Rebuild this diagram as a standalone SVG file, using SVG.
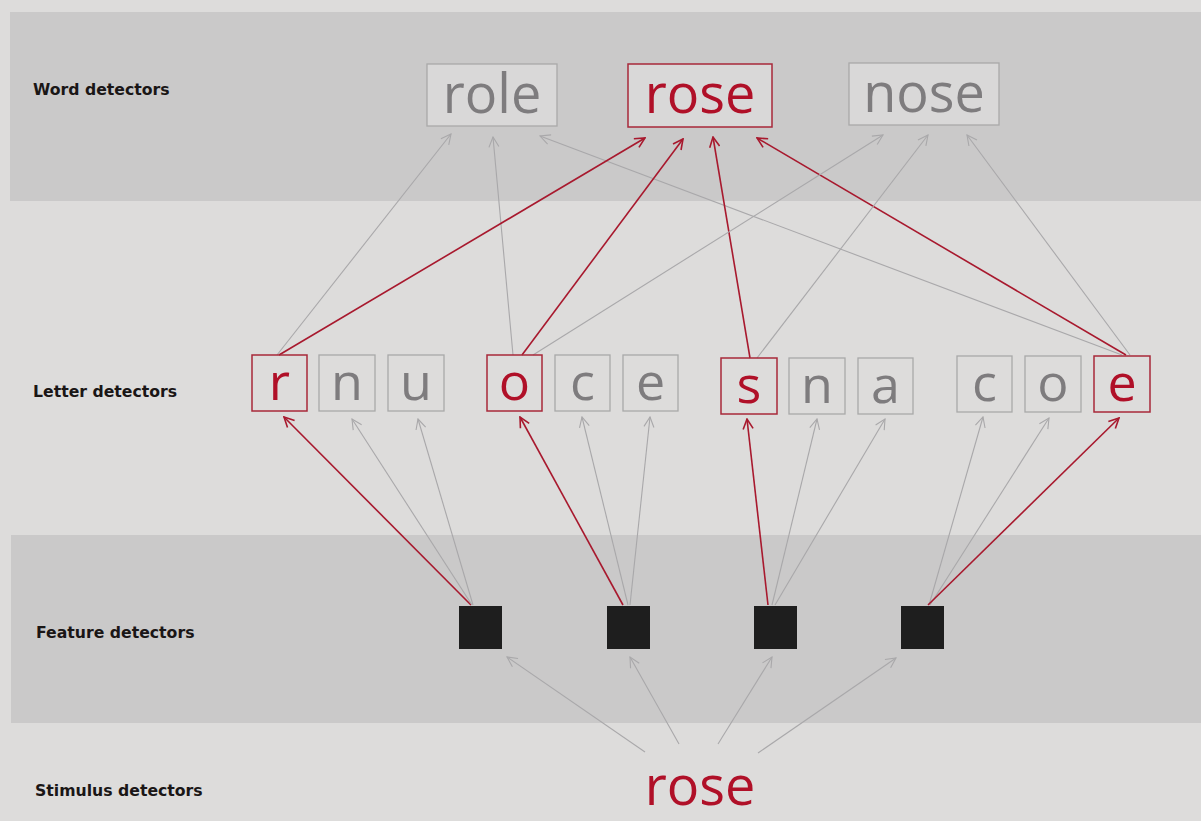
<svg xmlns="http://www.w3.org/2000/svg" width="1201" height="821" viewBox="0 0 1201 821">
<defs>
<style>
.band{fill:#cac9c9}
.lbl{font-family:"DejaVu Sans",Verdana,sans-serif;font-weight:bold;font-size:15.7px;fill:#1a1616}
.wt{font-family:"Open Sans","Noto Sans",sans-serif;font-size:54px;text-anchor:middle}
.lt{font-family:"Open Sans","Noto Sans",sans-serif;font-size:52px;text-anchor:middle}
.on{fill:#b01028}
.off{fill:#7e7c7e}
.boxon{fill:none;stroke:#a8283a;stroke-width:1.5}
.boxoff{fill:none;stroke:#a9a9a9;stroke-width:1.3}
.wbox{fill:#d9d8d8}
.r{stroke:#a8192e;stroke-width:1.6;fill:none;marker-end:url(#ar)}
.g{stroke:#a9a8aa;stroke-width:1.1;fill:none;marker-end:url(#ag)}
.feat{fill:#1e1e1e}
</style>
<marker id="ar" viewBox="0 0 12 12" markerWidth="12" markerHeight="12" refX="11" refY="6" orient="auto" markerUnits="userSpaceOnUse">
<path d="M1,1 L11,6 L1,11" fill="none" stroke="#a8192e" stroke-width="1.6"/>
</marker>
<marker id="ag" viewBox="0 0 12 12" markerWidth="12" markerHeight="12" refX="11" refY="6" orient="auto" markerUnits="userSpaceOnUse">
<path d="M1,1 L11,6 L1,11" fill="none" stroke="#a9a8aa" stroke-width="1.1"/>
</marker>
</defs>
<rect x="0" y="0" width="1201" height="821" fill="#dddcdb"/>
<rect class="band" x="10" y="12" width="1191" height="189"/>
<rect class="band" x="11" y="535" width="1190" height="188"/>
<g id="labels">
<text class="lbl" x="33" y="95">Word detectors</text>
<text class="lbl" x="33" y="397">Letter detectors</text>
<text class="lbl" x="36" y="638">Feature detectors</text>
<text class="lbl" x="35" y="796">Stimulus detectors</text>
</g>
<g id="connectors">
<line class="g" x1="277" y1="355" x2="451" y2="134"/>
<line class="g" x1="513" y1="355" x2="493" y2="137"/>
<line class="g" x1="1122" y1="355" x2="540" y2="136"/>
<line class="r" x1="279" y1="355" x2="645" y2="138"/>
<line class="r" x1="522" y1="355" x2="683" y2="139"/>
<line class="r" x1="750" y1="358" x2="713" y2="137"/>
<line class="r" x1="1126" y1="355" x2="757" y2="138"/>
<line class="g" x1="533" y1="355" x2="883" y2="135"/>
<line class="g" x1="757" y1="358" x2="928" y2="135"/>
<line class="g" x1="1130" y1="355" x2="967" y2="135"/>
<line class="r" x1="471" y1="605" x2="284" y2="417"/>
<line class="g" x1="472" y1="605" x2="352" y2="419"/>
<line class="g" x1="473" y1="605" x2="418" y2="419"/>
<line class="r" x1="623" y1="605" x2="520" y2="417"/>
<line class="g" x1="628" y1="605" x2="582" y2="417"/>
<line class="g" x1="630" y1="605" x2="650" y2="417"/>
<line class="r" x1="768" y1="605" x2="747" y2="419"/>
<line class="g" x1="772" y1="605" x2="817" y2="419"/>
<line class="g" x1="775" y1="605" x2="885" y2="419"/>
<line class="g" x1="929" y1="605" x2="983" y2="417"/>
<line class="g" x1="930" y1="605" x2="1049" y2="418"/>
<line class="r" x1="928" y1="605" x2="1119" y2="418"/>
<line class="g" x1="645" y1="752" x2="507" y2="657"/>
<line class="g" x1="679" y1="744" x2="630" y2="657"/>
<line class="g" x1="718" y1="744" x2="772" y2="657"/>
<line class="g" x1="758" y1="753" x2="896" y2="658"/>
</g>
<g id="word-role"><rect class="wbox" x="427" y="64" width="130" height="62"/><rect class="boxoff" x="427" y="64" width="130" height="62"/><text class="wt off" x="492" y="113">role</text></g>
<g id="word-rose"><rect class="wbox" x="628" y="64" width="144" height="63"/><rect class="boxon" x="628" y="64" width="144" height="63"/><text class="wt on" x="700" y="113">rose</text></g>
<g id="word-nose"><rect class="wbox" x="849" y="63" width="150" height="62"/><rect class="boxoff" x="849" y="63" width="150" height="62"/><text class="wt off" x="924" y="112">nose</text></g>
<g id="letter-r"><rect class="boxon" x="252" y="355" width="55" height="56"/><text class="lt on" x="279.5" y="400">r</text></g>
<g id="letter-n1"><rect class="boxoff" x="319" y="355" width="56" height="56"/><text class="lt off" x="347" y="400">n</text></g>
<g id="letter-u"><rect class="boxoff" x="388" y="355" width="56" height="56"/><text class="lt off" x="416" y="400">u</text></g>
<g id="letter-o1"><rect class="boxon" x="487" y="355" width="55" height="56"/><text class="lt on" x="514.5" y="400">o</text></g>
<g id="letter-c1"><rect class="boxoff" x="555" y="355" width="55" height="56"/><text class="lt off" x="582.5" y="400">c</text></g>
<g id="letter-e1"><rect class="boxoff" x="623" y="355" width="55" height="56"/><text class="lt off" x="650.5" y="400">e</text></g>
<g id="letter-s"><rect class="boxon" x="721" y="358" width="56" height="56"/><text class="lt on" x="749" y="403">s</text></g>
<g id="letter-n2"><rect class="boxoff" x="789" y="358" width="56" height="56"/><text class="lt off" x="817" y="403">n</text></g>
<g id="letter-a"><rect class="boxoff" x="858" y="358" width="55" height="56"/><text class="lt off" x="885.5" y="403">a</text></g>
<g id="letter-c2"><rect class="boxoff" x="957" y="356" width="55" height="56"/><text class="lt off" x="984.5" y="401">c</text></g>
<g id="letter-o2"><rect class="boxoff" x="1025" y="356" width="56" height="56"/><text class="lt off" x="1053" y="401">o</text></g>
<g id="letter-e2"><rect class="boxon" x="1094" y="356" width="56" height="56"/><text class="lt on" x="1122" y="401">e</text></g>
<g id="feature-1"><rect class="feat" x="459" y="606" width="43" height="43"/></g>
<g id="feature-2"><rect class="feat" x="607" y="606" width="43" height="43"/></g>
<g id="feature-3"><rect class="feat" x="754" y="606" width="43" height="43"/></g>
<g id="feature-4"><rect class="feat" x="901" y="606" width="43" height="43"/></g>
<g id="stimulus"><text class="wt on" x="700" y="805" font-size="56">rose</text></g>
</svg>
